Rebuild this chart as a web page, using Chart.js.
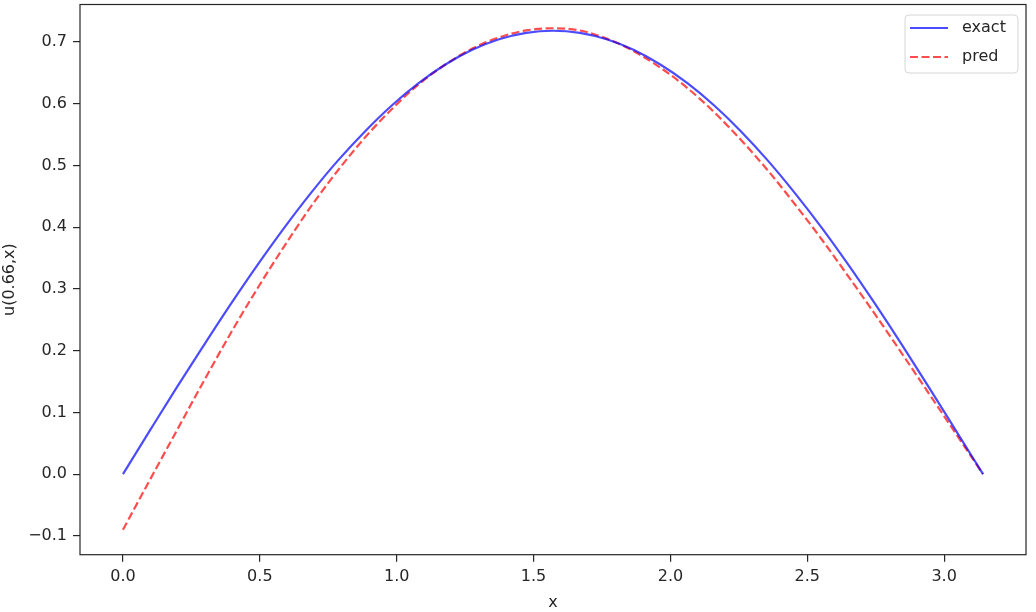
<!DOCTYPE html>
<html>
<head>
<meta charset="utf-8">
<script src="https://cdn.jsdelivr.net/npm/chart.js@4.4.0/dist/chart.umd.min.js"></script>
<style>
  html, body { margin: 0; padding: 0; background: #fff; }
  #wrap { width: 1036px; height: 612px; }
</style>
</head>
<body>
<div id="wrap"><canvas id="myChart"></canvas></div>
<script>
// x positions (0 .. pi)
var xs = [0, 0.098, 0.196, 0.295, 0.393, 0.491, 0.589, 0.687, 0.785, 0.884, 0.982,
  1.080, 1.178, 1.276, 1.374, 1.473, 1.571, 1.669, 1.767, 1.865, 1.963, 2.062,
  2.160, 2.258, 2.356, 2.454, 2.553, 2.651, 2.749, 2.847, 2.945, 3.043, 3.142];

// exact solution u(0.66,x)
var exact = [0, 0.0704, 0.1401, 0.2084, 0.2748, 0.3385, 0.3989, 0.4555, 0.5077, 0.5550, 0.5970,
  0.6332, 0.6633, 0.6871, 0.7042, 0.7145, 0.7180, 0.7145, 0.7042, 0.6871, 0.6633, 0.6332,
  0.5970, 0.5550, 0.5077, 0.4555, 0.3989, 0.3385, 0.2748, 0.2084, 0.1401, 0.0704, 0];

// network prediction
var pred = [-0.090, -0.0096, 0.0701, 0.1504, 0.2278, 0.3005, 0.3689, 0.4335, 0.4917, 0.5450, 0.5910,
  0.6312, 0.6633, 0.6891, 0.7072, 0.7185, 0.7220, 0.7185, 0.7052, 0.6851, 0.6583, 0.6252,
  0.5860, 0.5410, 0.4917, 0.4375, 0.3799, 0.3195, 0.2578, 0.1944, 0.1301, 0.0654, 0];

var xTicks = [0, 0.5, 1.0, 1.5, 2.0, 2.5, 3.0];
var yTicks = [-0.1, 0, 0.1, 0.2, 0.3, 0.4, 0.5, 0.6, 0.7];

var FONT = "'DejaVu Sans', sans-serif";
var INK = "#262626";

function pts(ys) {
  return xs.map(function (x, i) { return { x: x, y: ys[i] }; });
}

function fmt(v) {
  return v.toFixed(1).replace("-", "\u2212");
}

// frame round the plot + matplotlib style legend in the upper right
var framePlugin = {
  id: "frame",
  afterDraw: function (chart) {
    var c = chart.ctx, a = chart.chartArea;
    c.save();
    c.strokeStyle = INK;
    c.lineWidth = 1.2;
    c.strokeRect(a.left, a.top, a.right - a.left, a.bottom - a.top);

    var bx = 905, by = 15, bw = 113, bh = 58, r = 4;
    c.beginPath();
    c.moveTo(bx + r, by);
    c.arcTo(bx + bw, by, bx + bw, by + bh, r);
    c.arcTo(bx + bw, by + bh, bx, by + bh, r);
    c.arcTo(bx, by + bh, bx, by, r);
    c.arcTo(bx, by, bx + bw, by, r);
    c.closePath();
    c.fillStyle = "rgba(255,255,255,0.8)";
    c.fill();
    c.strokeStyle = "#d6d6d6";
    c.lineWidth = 1;
    c.stroke();

    c.font = "16px " + FONT;
    c.textBaseline = "middle";
    chart.data.datasets.forEach(function (ds, i) {
      var y = 28 + i * 29;
      c.beginPath();
      c.setLineDash(ds.borderDash || []);
      c.strokeStyle = ds.borderColor;
      c.lineWidth = ds.borderWidth;
      c.moveTo(910, y);
      c.lineTo(948, y);
      c.stroke();
      c.setLineDash([]);
      c.fillStyle = INK;
      c.fillText(ds.label, 962, y);
    });
    c.restore();
  },
};

var ctx = document.getElementById("myChart").getContext("2d");
var myChart = new Chart(ctx, {
  type: "line",
  data: {
    datasets: [
      {
        label: "exact",
        data: pts(exact),
        borderColor: "rgba(0,0,255,0.7)",
        borderWidth: 2.2,
        pointRadius: 0,
        fill: false,
        cubicInterpolationMode: "monotone",
      },
      {
        label: "pred",
        data: pts(pred),
        borderColor: "rgba(255,0,0,0.7)",
        borderWidth: 2.2,
        borderDash: [8, 3.5],
        pointRadius: 0,
        fill: false,
        cubicInterpolationMode: "monotone",
      },
    ],
  },
  options: {
    animation: false,
    responsive: true,
    maintainAspectRatio: false,
    layout: { padding: { top: 4.5, right: 10, left: 0, bottom: 0 } },
    plugins: {
      legend: { display: false },
      tooltip: { enabled: false },
    },
    scales: {
      x: {
        type: "linear",
        min: -0.157,
        max: 3.299,
        afterBuildTicks: function (scale) {
          scale.ticks = xTicks.map(function (v) { return { value: v }; });
        },
        afterFit: function (scale) {
          scale.height = 57.3;
          scale.paddingLeft = 0;
          scale.paddingRight = 0;
        },
        grid: { drawOnChartArea: false, drawTicks: true, tickLength: 7, color: INK, lineWidth: 1.2 },
        border: { display: false },
        ticks: {
          color: INK,
          font: { family: FONT, size: 16 },
          padding: 6,
          maxRotation: 0,
          callback: function (v) { return fmt(v); },
        },
        title: {
          display: true,
          text: "x",
          color: INK,
          font: { family: FONT, size: 16 },
          padding: { top: 0, bottom: 0 },
        },
      },
      y: {
        type: "linear",
        min: -0.1305,
        max: 0.7605,
        afterBuildTicks: function (scale) {
          scale.ticks = yTicks.map(function (v) { return { value: v }; });
        },
        afterFit: function (scale) {
          scale.width = 80;
          scale.paddingTop = 0;
          scale.paddingBottom = 0;
        },
        grid: { drawOnChartArea: false, drawTicks: true, tickLength: 7, color: INK, lineWidth: 1.2 },
        border: { display: false },
        ticks: {
          color: INK,
          font: { family: FONT, size: 16 },
          padding: 6,
          callback: function (v) { return fmt(v); },
        },
        title: {
          display: true,
          text: "u(0.66,x)",
          color: INK,
          font: { family: FONT, size: 16 },
          padding: { top: 0, bottom: 0 },
        },
      },
    },
  },
  plugins: [framePlugin],
});
</script>
</body>
</html>
